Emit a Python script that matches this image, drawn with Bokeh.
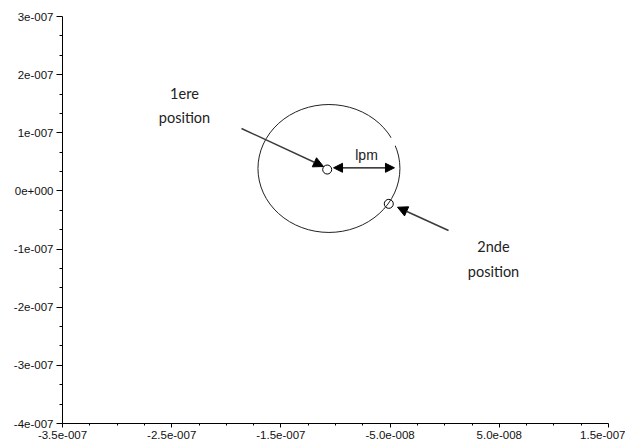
from bokeh.plotting import figure
from bokeh.models import (ColumnDataSource, FixedTicker, CustomJSTickFormatter,
                          Arrow, NormalHead, Range1d)
from bokeh.core.properties import value
from bokeh.embed import file_html
from bokeh.resources import INLINE

# ---- data ----
x_ticks = [-3.5e-7, -2.5e-7, -1.5e-7, -5.0e-8, 5.0e-8, 1.5e-7]
x_tick_labels = ["-3.5e-007", "-2.5e-007", "-1.5e-007", "-5.0e-008", "5.0e-008", "1.5e-007"]
y_ticks = [-4e-7, -3e-7, -2e-7, -1e-7, 0.0, 1e-7, 2e-7, 3e-7]
y_tick_labels = ["-4e-007", "-3e-007", "-2e-007", "-1e-007", "0e+000", "1e-007", "2e-007", "3e-007"]
x_minor = [-3.25e-7, -3.0e-7, -2.75e-7, -2.25e-7, -2.0e-7, -1.75e-7, -1.25e-7, -1.0e-7,
           -7.5e-8, -2.5e-8, 0.0, 2.5e-8, 7.5e-8, 1.0e-7, 1.25e-7]
y_minor = [-3.667e-7, -3.333e-7, -2.667e-7, -2.333e-7, -1.667e-7, -1.333e-7, -6.67e-8,
           -3.33e-8, 3.33e-8, 6.67e-8, 1.333e-7, 1.667e-7, 2.333e-7, 2.667e-7]

# positions (1st and 2nd)
pos_x = [-1.076e-7, -5.12e-8]
pos_y = [3.68e-8, -2.22e-8]

# circle of displacement
ell_x = [-1.06e-7]
ell_y = [3.86e-8]
ell_w = [1.30e-7]
ell_h = [2.2e-7]

# small gap in the drawn circle
gap_x0 = [-4.8e-8]
gap_y0 = [9.24e-8]
gap_x1 = [-4.5e-8]
gap_y1 = [7.81e-8]

# pointer arrows (tail -> head)
arr_x0 = [-1.861e-7, 3.5e-9]
arr_y0 = [1.074e-7, -6.81e-8]
arr_x1 = [-1.110e-7, -4.32e-8]
arr_y1 = [4.2e-8, -2.8e-8]

# double arrow "lpm"
lpm_x0 = [-1.018e-7]
lpm_x1 = [-4.6e-8]
lpm_y = [3.98e-8]

# labels
lab_text = ["1ere", "position", "2nde", "position"]
lab_x = [-2.383e-7, -2.383e-7, 4.47e-8, 4.47e-8]
lab_y = [1.676e-7, 1.271e-7, -9.56e-8, -1.386e-7]
lpm_text = ["lpm"]
lpm_tx = [-7.16e-8]
lpm_ty = [6.26e-8]

p = figure(width=625, height=444, output_backend="svg", toolbar_location=None,
           x_range=Range1d(-3.5e-7, 1.5e-7), y_range=Range1d(-4e-7, 3e-7),
           min_border_left=62, min_border_right=17, min_border_top=16, min_border_bottom=21)
p.outline_line_color = None
p.xgrid.visible = False
p.ygrid.visible = False
p.background_fill_color = "white"

fmt_code = """
let best = 0, bd = Infinity;
for (let i = 0; i < tvals.length; i++) {
  const d = Math.abs(tvals[i] - tick);
  if (d < bd) { bd = d; best = i; }
}
return labels[best];
"""
p.xaxis.ticker = FixedTicker(ticks=x_ticks, minor_ticks=x_minor)
p.yaxis.ticker = FixedTicker(ticks=y_ticks, minor_ticks=y_minor)
p.xaxis.formatter = CustomJSTickFormatter(args=dict(tvals=x_ticks, labels=x_tick_labels), code=fmt_code)
p.yaxis.formatter = CustomJSTickFormatter(args=dict(tvals=y_ticks, labels=y_tick_labels), code=fmt_code)

for ax in (p.xaxis[0], p.yaxis[0]):
    ax.axis_line_color = "black"
    ax.axis_line_width = 1
    ax.major_tick_line_color = "black"
    ax.minor_tick_line_color = "black"
    ax.major_tick_in = 0
    ax.minor_tick_in = 0
    ax.major_label_text_font = "Liberation Sans"
    ax.major_label_text_font_size = "11.5px"
    ax.major_label_text_color = "#111111"

p.xaxis.major_tick_out = 4
p.xaxis.minor_tick_out = 2
p.xaxis.major_label_standoff = 3
p.yaxis.major_tick_out = 6
p.yaxis.minor_tick_out = 3
p.yaxis.major_label_standoff = 3

# positions (open markers; the circle line shows through the second one)
p.scatter(x=pos_x, y=pos_y, marker="circle", size=9, fill_color="white",
          line_color="black", line_width=1)

# circle
p.ellipse(x=ell_x, y=ell_y, width=ell_w, height=ell_h, fill_color=None,
          line_color="#222222", line_width=1)
p.segment(x0=gap_x0, y0=gap_y0, x1=gap_x1, y1=gap_y1, line_color="white", line_width=4)

# arrows
arr_src = ColumnDataSource(dict(x0=arr_x0, y0=arr_y0, x1=arr_x1, y1=arr_y1))
p.add_layout(Arrow(source=arr_src, x_start="x0", y_start="y0", x_end="x1", y_end="y1",
                   line_color="#3a3a3a", line_width=1.5,
                   end=NormalHead(size=10, fill_color="black", line_color="black", line_width=1)))
lpm_src = ColumnDataSource(dict(x0=lpm_x0, x1=lpm_x1, y=lpm_y))
p.add_layout(Arrow(source=lpm_src, x_start="x0", y_start="y", x_end="x1", y_end="y",
                   line_color="black", line_width=1.2,
                   start=NormalHead(size=9, fill_color="black", line_color="black", line_width=1),
                   end=NormalHead(size=9, fill_color="black", line_color="black", line_width=1)))

# labels
p.text(x=lab_x, y=lab_y, text=lab_text, text_font=value("Lato"), text_font_size="14.5px",
       text_color="#222222", text_align="center", text_baseline="middle")
p.text(x=lpm_tx, y=lpm_ty, text=lpm_text, text_font=value("Liberation Sans"),
       text_font_size="14px", text_color="#222222", text_align="center", text_baseline="middle")

open("out.html", "w").write(file_html(p, INLINE))
